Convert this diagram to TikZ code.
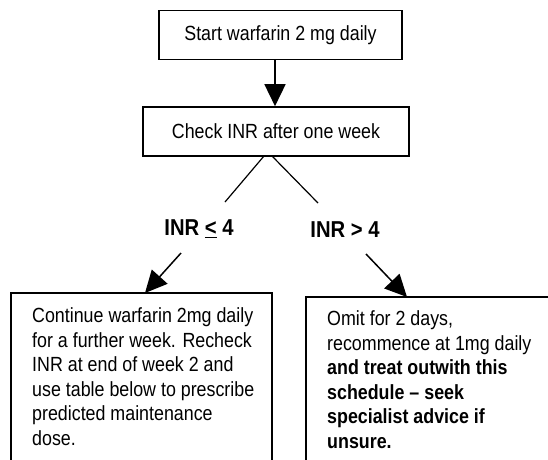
\documentclass[tikz,border=0pt]{standalone}
\usepackage{fontspec}
\setmainfont{Liberation Sans}[FakeStretch=0.87]
\newfontfamily\labelfont{Liberation Sans}[FakeStretch=0.88]
\usetikzlibrary{arrows.meta}
\tikzset{
  box/.style={draw, line width=1.6pt, minimum height=49pt, inner sep=0pt, font=\fontsize{20.5}{23.2}\selectfont},
  arr/.style={line width=1.5pt, -{Triangle[width=21pt,length=22pt]}},
  diag/.style={line width=1.2pt},
  lbl/.style={inner sep=0pt, font=\labelfont\fontsize{23}{27}\selectfont\bfseries},
  body/.style={anchor=base west, align=left, inner sep=0pt, font=\fontsize{20.5}{24.5}\selectfont},
  frame/.style={line width=1.6pt}
}
\begin{document}
\begin{tikzpicture}[x=1pt,y=-1pt]
\useasboundingbox[fill=white] (0,0) rectangle (548,459);
\node[box, minimum width=243pt] (start) at (280.5,35) {Start warfarin 2 mg daily};
\node[box, minimum width=266pt] (check) at (276,131.5) {Check INR after one week};
\draw[arr] (start.south -| 275,0) -- (check.north -| 275,0);
\coordinate (la) at (264,156);
\coordinate (ra) at (272,156);
\coordinate (lb) at (225,202);
\coordinate (rb) at (318,203);
\draw[diag] (la) -- (lb);
\draw[diag] (ra) -- (rb);
\node[lbl] (lowlbl) at (199,229) {INR \underline{<} 4};
\node[lbl] (highlbl) at (345,230) {INR > 4};
\coordinate (lc) at (181,253);
\coordinate (rc) at (366,254);
\coordinate (ld) at (145,293);
\coordinate (rd) at (407,297);
\draw[arr] (lc) -- (ld);
\draw[arr] (rc) -- (rd);
\draw[frame] (11,475) -- (11,293) -- (272,293) -- (272,475);
\draw[frame] (306,475) -- (306,297) -- (570,297);
\node[body] (lefttext) at (32,445) {Continue warfarin 2mg daily\\for a further week. Recheck\\INR at end of week 2 and\\use table below to prescribe\\predicted maintenance\\dose.};
\node[body] (righttext) at (327,448) {Omit for 2 days,\\recommence at 1mg daily\\\textbf{and treat outwith this}\\\textbf{schedule -- seek}\\\textbf{specialist advice if}\\\textbf{unsure.}};
\end{tikzpicture}
\end{document}
